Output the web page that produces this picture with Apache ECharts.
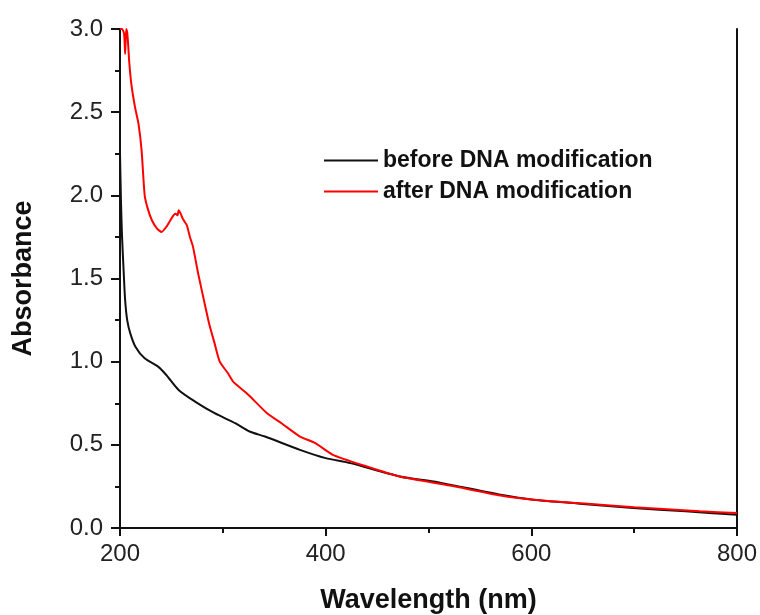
<!DOCTYPE html>
<html>
<head>
<meta charset="utf-8">
<script src="https://cdn.jsdelivr.net/npm/echarts@6/dist/echarts.min.js"></script>
<style>
  html, body { margin: 0; padding: 0; background: #fff; }
  #chart { width: 760px; height: 615px; }
</style>
</head>
<body>
<div id="chart"></div>
<script>
// wavelength (nm) / absorbance
var beforeWl = [200, 201, 202, 203.5, 205, 207, 210, 215, 224, 237, 245, 257, 273, 292, 312, 326, 341, 375, 400, 424, 472, 505, 521, 570, 602, 650, 699, 750, 800];
var beforeAbs = [2.25, 1.95, 1.75, 1.55, 1.37, 1.25, 1.17, 1.09, 1.02, 0.97, 0.92, 0.83, 0.76, 0.69, 0.63, 0.58, 0.55, 0.47, 0.42, 0.39, 0.31, 0.28, 0.26, 0.20, 0.17, 0.145, 0.12, 0.10, 0.08];

var afterWl = [200, 202, 204, 205, 206, 207, 208, 209, 211, 214.6, 218, 221, 224, 227, 231, 236, 240.5, 245, 249, 252, 254, 256, 257, 259, 261, 263, 265, 268, 271, 276, 283, 287, 292, 297, 305, 310, 325, 343, 357, 375, 390, 407, 440, 472, 521, 570, 602, 667, 700, 764, 800];
var afterAbs = [3.0, 3.0, 2.97, 2.85, 3.0, 2.98, 2.9, 2.8, 2.67, 2.53, 2.43, 2.27, 2.0, 1.92, 1.85, 1.8, 1.78, 1.81, 1.85, 1.88, 1.89, 1.88, 1.91, 1.89, 1.86, 1.84, 1.82, 1.75, 1.69, 1.53, 1.33, 1.22, 1.11, 1.0, 0.93, 0.88, 0.80, 0.69, 0.63, 0.55, 0.51, 0.44, 0.37, 0.31, 0.255, 0.195, 0.17, 0.14, 0.125, 0.10, 0.09];

var seriesNames = ['before DNA modification', 'after DNA modification'];

function pairs(xs, ys) {
    var out = [];
    for (var i = 0; i < xs.length; i++) out.push([xs[i], ys[i]]);
    return out;
}

var chart = echarts.init(document.getElementById('chart'));
var font = 'Liberation Sans, Arial, sans-serif';

chart.setOption({
    animation: false,
    grid: { left: 120, right: 23, top: 29, bottom: 87, outerBoundsMode: 'none' },
    legend: {
        orient: 'vertical',
        left: 319,
        top: 144,
        icon: 'rect',
        itemWidth: 54,
        itemHeight: 2,
        itemGap: 8,
        textStyle: { fontFamily: font, fontSize: 23, fontWeight: 'bold', color: '#111' },
        data: seriesNames
    },
    xAxis: [{
        type: 'value',
        min: 200, max: 800, interval: 200,
        name: 'Wavelength (nm)',
        nameLocation: 'middle',
        nameGap: 59,
        nameTextStyle: { fontFamily: font, fontSize: 27, fontWeight: 'bold', color: '#111' },
        axisLine: { lineStyle: { color: '#111', width: 2 } },
        axisTick: { length: 8, lineStyle: { color: '#111', width: 2 } },
        minorTick: { show: true, splitNumber: 2, length: 5, lineStyle: { color: '#111', width: 2 } },
        axisLabel: { fontFamily: font, fontSize: 24, color: '#222', margin: 14 },
        splitLine: { show: false }
    }, {
        type: 'value',
        position: 'top',
        min: 200, max: 800,
        axisLine: { show: true, lineStyle: { color: '#111', width: 2 } },
        axisTick: { show: false },
        axisLabel: { show: false },
        splitLine: { show: false }
    }],
    yAxis: [{
        type: 'value',
        min: 0, max: 3, interval: 0.5,
        name: 'Absorbance',
        nameLocation: 'middle',
        nameGap: 83,
        nameTextStyle: { fontFamily: font, fontSize: 27, fontWeight: 'bold', color: '#111' },
        axisLine: { show: true, lineStyle: { color: '#111', width: 2 } },
        axisTick: { show: true, length: 9, lineStyle: { color: '#111', width: 2 } },
        minorTick: { show: true, splitNumber: 2, length: 5, lineStyle: { color: '#111', width: 2 } },
        axisLabel: {
            fontFamily: font, fontSize: 24, color: '#222', margin: 17,
            formatter: function (v) { return v.toFixed(1); }
        },
        splitLine: { show: false }
    }, {
        type: 'value',
        position: 'right',
        min: 0, max: 3,
        axisLine: { show: true, lineStyle: { color: '#111', width: 2 } },
        axisTick: { show: false },
        axisLabel: { show: false },
        splitLine: { show: false }
    }],
    series: [{
        name: seriesNames[0],
        type: 'line',
        symbol: 'none',
        smooth: 0.25,
        color: '#111',
        lineStyle: { color: '#111', width: 2 },
        data: pairs(beforeWl, beforeAbs)
    }, {
        name: seriesNames[1],
        type: 'line',
        symbol: 'none',
        smooth: 0.2,
        color: '#ff0000',
        lineStyle: { color: '#ff0000', width: 2 },
        data: pairs(afterWl, afterAbs)
    }]
});
</script>
</body>
</html>
